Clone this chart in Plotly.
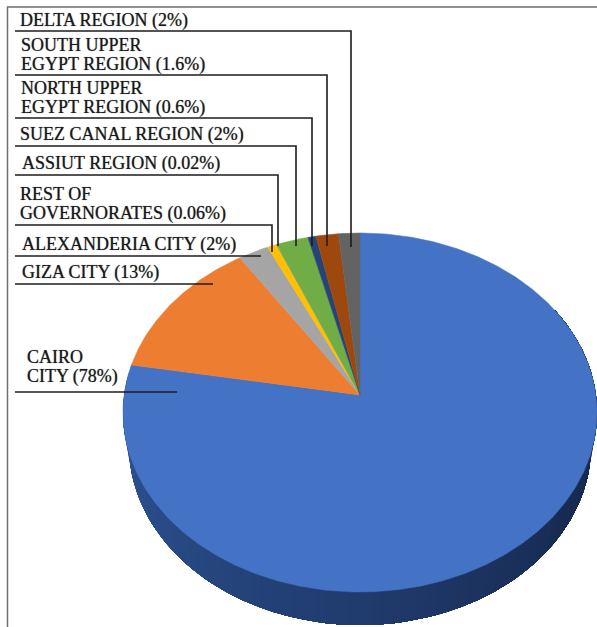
import numpy as np
import plotly.graph_objects as go

# ---- data ----
categories = ["CAIRO<br>CITY (78%)", "GIZA CITY (13%)", "ALEXANDERIA CITY (2%)",
              "REST OF<br>GOVERNORATES (0.06%)", "ASSIUT REGION (0.02%)",
              "SUEZ CANAL REGION (2%)", "NORTH UPPER<br>EGYPT REGION (0.6%)",
              "SOUTH UPPER<br>EGYPT REGION (1.6%)", "DELTA REGION (2%)"]
# slice shares as they appear in the picture
values = [78, 13, 2.3, 0.7, 0.02, 2.4, 0.6, 1.7, 1.6]
colors = ["#4472C4", "#ED7D31", "#A5A5A5", "#FFC000", "#5B9BD5",
          "#70AD47", "#264478", "#9E480E", "#636363"]

# label placement: x, y of text centre, leader line vertices
label_x = [27, 22, 22, 20, 22, 20, 21, 21, 20]
label_y = [366, 272, 244, 203, 163, 134, 97, 54, 20]
leaders = [
    [(15, 392), (177, 392)],
    [(15, 284), (213, 284)],
    [(15, 256), (261, 256)],
    [(15, 225), (272, 225), (272, 252)],
    [(15, 175), (278, 175), (278, 246)],
    [(15, 146), (296, 146), (296, 246)],
    [(15, 118), (312, 118), (312, 246)],
    [(15, 75), (327, 75), (327, 246)],
    [(15, 31), (351, 31), (351, 247)],
]

# ---- projection of the tilted disc ----
CX, CY, A, B, K, DEPTH, RIM = 360.0, 395.0, 235.9, 177.8, 0.0975, 33.0, 0.975


def project(t):
    u, v = np.sin(t), np.cos(t)
    w = 1 + K * v
    return CX + A * u / w, CY - B * v / w


fig = go.Figure()

# side wall, shaded from left to right; each step overpaints the rest of the arc
t_wall = np.radians(np.linspace(280, 60, 89))
c0, c1 = np.array([0x30, 0x58, 0x9C]), np.array([0x18, 0x2B, 0x52])
for i in range(len(t_wall) - 1):
    x, y = project(t_wall[i:])
    f = i / (len(t_wall) - 2)
    c = c0 + (c1 - c0) * min(1.0, f * 1.4)
    col = "rgb(%d,%d,%d)" % tuple(c)
    fig.add_trace(go.Scatter(
        x=np.r_[x, CX + (x[::-1] - CX) * RIM], y=np.r_[y, y[::-1] + DEPTH],
        mode="lines", fill="toself", fillcolor=col,
        line=dict(width=0), hoverinfo="skip", showlegend=False))

# top surface
edges = np.r_[0, np.cumsum(values)] / np.sum(values) * 2 * np.pi
for i, col in enumerate(colors):
    n = max(3, int((edges[i + 1] - edges[i]) / 0.01))
    x, y = project(np.linspace(edges[i], edges[i + 1], n))
    fig.add_trace(go.Scatter(
        x=np.r_[CX, x, CX], y=np.r_[CY, y, CY],
        mode="lines", fill="toself", fillcolor=col,
        line=dict(color=col, width=0.5), name=categories[i].replace("<br>", " "),
        hoverinfo="name", showlegend=False))

# leaders
for pts in leaders:
    xs, ys = zip(*pts)
    fig.add_trace(go.Scatter(x=xs, y=ys, mode="lines",
                             line=dict(color="#1c1c1c", width=1.6),
                             hoverinfo="skip", showlegend=False))

# frame
fig.add_trace(go.Scatter(x=[597, 7.5, 7.5], y=[7, 7, 627], mode="lines",
                         line=dict(color="#6f6f6f", width=1.5),
                         hoverinfo="skip", showlegend=False))

for text, x, y in zip(categories, label_x, label_y):
    lines = text.split("<br>")
    for j, line in enumerate(lines):
        fig.add_annotation(x=x, y=y + (j - (len(lines) - 1) / 2) * 19.6, text=line,
                           showarrow=False, xanchor="left", yanchor="middle",
                           align="left", xshift=-2, yshift=-0.5,
                           font=dict(family="Liberation Serif", size=18,
                                     color="#1a1a1a",
                                     shadow="0 0 1px rgba(0,0,0,0.6)"))

fig.update_layout(
    width=597, height=627, autosize=False,
    margin=dict(l=0, r=0, t=0, b=0),
    paper_bgcolor="white", plot_bgcolor="white",
    xaxis=dict(range=[0, 597], visible=False, fixedrange=True),
    yaxis=dict(range=[627, 0], visible=False, fixedrange=True),
)
fig.write_html("out.html", config={"displayModeBar": False},
               post_script="document.body.style.margin='0';")
